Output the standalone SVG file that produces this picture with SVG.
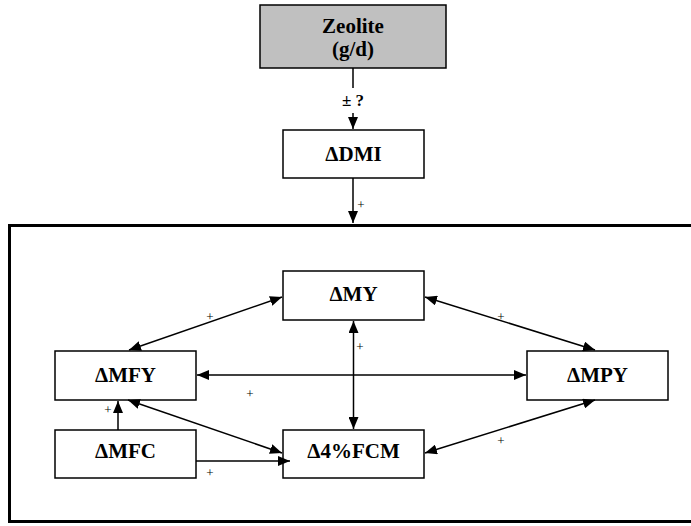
<svg xmlns="http://www.w3.org/2000/svg" width="691" height="526" viewBox="0 0 691 526">
<defs>
<style>
.box{fill:#fff;stroke:#000;stroke-width:1.5}
.lbl{font-family:'Liberation Serif','Times New Roman',serif;font-weight:bold;font-size:21px;text-anchor:middle;fill:#000}
.pl{font-family:'Liberation Serif','Times New Roman',serif;font-size:13px;text-anchor:middle;fill:#000}
.ln{stroke:#000;stroke-width:1.5;fill:none}
</style>
<marker id="ah" viewBox="0 0 12 10" refX="12" refY="5" markerWidth="12" markerHeight="10" markerUnits="userSpaceOnUse" orient="auto-start-reverse">
<path d="M0,0 L12,5 L0,10 Z" fill="#000"/>
</marker>
</defs>
<rect x="9.5" y="225.5" width="700" height="296" fill="none" stroke="#000" stroke-width="3"/>
<g id="zeolite">
<rect x="260" y="5" width="186" height="63" fill="#c0c0c0" stroke="#000" stroke-width="1.5"/>
<text class="lbl" x="353" y="33">Zeolite</text>
<text class="lbl" x="353" y="56">(g/d)</text>
</g>
<g id="dmi">
<rect class="box" x="283" y="130" width="141" height="48"/>
<text class="lbl" x="353.5" y="161">ΔDMI</text>
</g>
<g id="my">
<rect class="box" x="283" y="271" width="141" height="49"/>
<text class="lbl" x="353.5" y="301">ΔMY</text>
</g>
<g id="mfy">
<rect class="box" x="55" y="351" width="141" height="49"/>
<text class="lbl" x="125.5" y="382">ΔMFY</text>
</g>
<g id="mpy">
<rect class="box" x="527" y="351" width="141" height="49"/>
<text class="lbl" x="597.5" y="382">ΔMPY</text>
</g>
<g id="mfc">
<rect class="box" x="55" y="430" width="141" height="48"/>
<text class="lbl" x="125.5" y="458">ΔMFC</text>
</g>
<g id="fcm">
<rect class="box" x="283" y="430" width="141" height="48"/>
<text class="lbl" x="353.5" y="458">Δ4%FCM</text>
</g>
<g id="connectors">
<line class="ln" x1="353" y1="68" x2="353" y2="88"/>
<text x="353" y="106" font-family="'Liberation Serif','Times New Roman',serif" font-weight="bold" font-size="17" text-anchor="middle">± ?</text>
<line class="ln" x1="353" y1="113" x2="353" y2="129" marker-end="url(#ah)"/>
<line class="ln" x1="353" y1="178" x2="353" y2="223" marker-end="url(#ah)"/>
<text class="pl" x="361" y="209">+</text>
<line class="ln" x1="282" y1="297" x2="129" y2="350" marker-start="url(#ah)" marker-end="url(#ah)"/>
<text class="pl" x="210" y="321">+</text>
<line class="ln" x1="425" y1="297" x2="595" y2="350" marker-start="url(#ah)" marker-end="url(#ah)"/>
<text class="pl" x="501" y="321">+</text>
<line class="ln" x1="353.5" y1="321" x2="353.5" y2="429" marker-start="url(#ah)" marker-end="url(#ah)"/>
<text class="pl" x="360" y="351">+</text>
<line class="ln" x1="197" y1="375" x2="526" y2="375" marker-start="url(#ah)" marker-end="url(#ah)"/>
<text class="pl" x="250" y="398">+</text>
<line class="ln" x1="118" y1="430" x2="118" y2="401" marker-end="url(#ah)"/>
<text class="pl" x="108" y="414">+</text>
<line class="ln" x1="128" y1="400" x2="282" y2="453" marker-start="url(#ah)" marker-end="url(#ah)"/>
<line class="ln" x1="196" y1="461" x2="290" y2="461" marker-end="url(#ah)"/>
<text class="pl" x="210" y="477">+</text>
<line class="ln" x1="595" y1="400" x2="425" y2="453" marker-start="url(#ah)" marker-end="url(#ah)"/>
<text class="pl" x="501" y="445">+</text>
</g>
</svg>
